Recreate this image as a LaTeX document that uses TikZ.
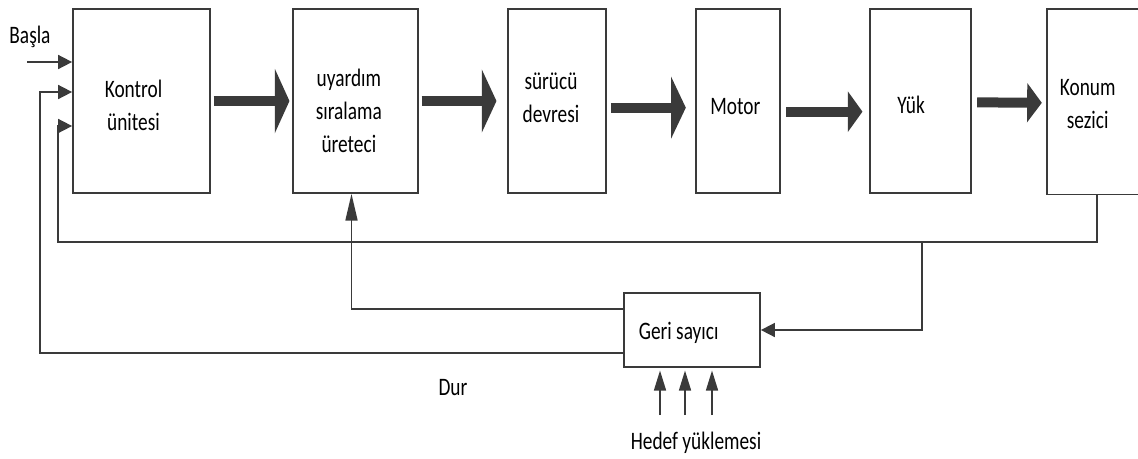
\documentclass[tikz,border=0pt]{standalone}
\usepackage{fontspec}
\setmainfont{Carlito}
\usepackage{graphicx}
\usetikzlibrary{arrows.meta}
\definecolor{linegray}{HTML}{3A3A3A}
\tikzset{
    block/.style={draw=linegray, line width=1.3pt, minimum height=138pt, inner sep=0pt}, % kutular
    bigarrow/.style={draw=linegray, line width=7.5pt}, % kalin oklar
    sigline/.style={draw=linegray, line width=1.2pt}, % ince hatlar
    sigarrow/.style={sigline, -{Triangle[length=10.5pt, width=10.5pt]}}
}
\newcommand{\tall}[1]{\scalebox{1}[1.3]{\begin{tabular}{@{}c@{}}#1\end{tabular}}}

\begin{document}
\begin{tikzpicture}[x=0.75pt, y=-0.75pt, font=\fontsize{14.5}{19}\selectfont]
            \useasboundingbox (0,0) rectangle (1138,458);

            \node[block, minimum width=102.75pt, label={[xshift=-6pt, yshift=-4.5pt]center:\tall{Kontrol\\ünitesi}}] (ctrl) at (141.5,101) {};
            \node[block, minimum width=93.75pt, label={[xshift=-5pt, yshift=-9pt]center:\tall{uyardım\\sıralama\\üreteci}}] (gen) at (355.5,101) {};
            \node[block, minimum width=73.5pt, label={[xshift=-4.5pt, yshift=1pt]center:\tall{sürücü\\devresi}}] (drv) at (557,101) {};
            \node[block, minimum width=63pt, label={[xshift=-2pt, yshift=-5pt]center:\tall{Motor}}] (motor) at (738,101) {};
            \node[block, minimum width=75.75pt, label={[xshift=-7pt, yshift=-4.5pt]center:\tall{Yük}}] (load) at (920.5,101) {};
            % sag kenari resmin disinda kalan kutu
            \node[block, draw=none, minimum width=67.5pt, label={[xshift=-4pt, yshift=-3pt]center:\tall{Konum\\sezici}}] (sens) at (1093,101.5) {};
            \draw[linegray, line width=1.3pt] (sens.north east) -- (sens.north west) -- (sens.south west) -- (sens.south east);
            \node[block, minimum width=102pt, minimum height=55.5pt, label={[xshift=-10pt, yshift=-2pt]center:\tall{Geri sayıcı}}] (count) at (692,330) {};

            \draw[bigarrow, -{Triangle[length=11pt, width=48pt]}] ([xshift=2pt]ctrl.east) -- ([xshift=-2pt]gen.west);
            \draw[bigarrow, -{Triangle[length=11pt, width=47pt]}] ([xshift=2pt]gen.east) -- ([xshift=-8pt]drv.west);
            \draw[bigarrow, -{Triangle[length=11pt, width=46pt]}] ([xshift=3pt, yshift=-5pt]drv.east) -- ([xshift=-7pt, yshift=-5pt]motor.west);
            \draw[bigarrow, -{Triangle[length=11pt, width=30pt]}] ([xshift=4pt, yshift=-8pt]motor.east) -- ([xshift=-5pt, yshift=-8pt]load.west);
            \draw[bigarrow, -{Triangle[length=11pt, width=29pt]}] ([xshift=4pt, yshift=-1pt]load.east) -- ([xshift=-4pt, yshift=-1pt]sens.west);

            \node (start) at (30,37) {\tall{Başla}};
            \coordinate (startin) at (27,62);
            \draw[sigarrow] (startin) -- (ctrl.west |- startin);

            \coordinate (branch) at (922,242);
            \draw[sigarrow] (sens.south -| 1097,0) |- (58,242) |- (ctrl.west |- 0,126);
            \draw[sigarrow] (branch) |- (count.east);
            \draw[sigarrow] (count.west |- 0,353) -| (40,92) -- (ctrl.west |- 0,92);
            \draw[sigline, -{Triangle[length=20pt, width=9pt]}] (count.west |- 0,309) -| ([xshift=-3pt]gen.south);

            \foreach \x in {660,685,712} {\draw[sigline, -{Triangle[length=15pt, width=9pt]}] (\x,415) -- ([yshift=-2pt]count.south -| \x,0);}

            \node (stop) at (453,389) {\tall{Dur}};
            \node (target) at (696,443) {\tall{Hedef yüklemesi}};
        \end{tikzpicture}
\end{document}
